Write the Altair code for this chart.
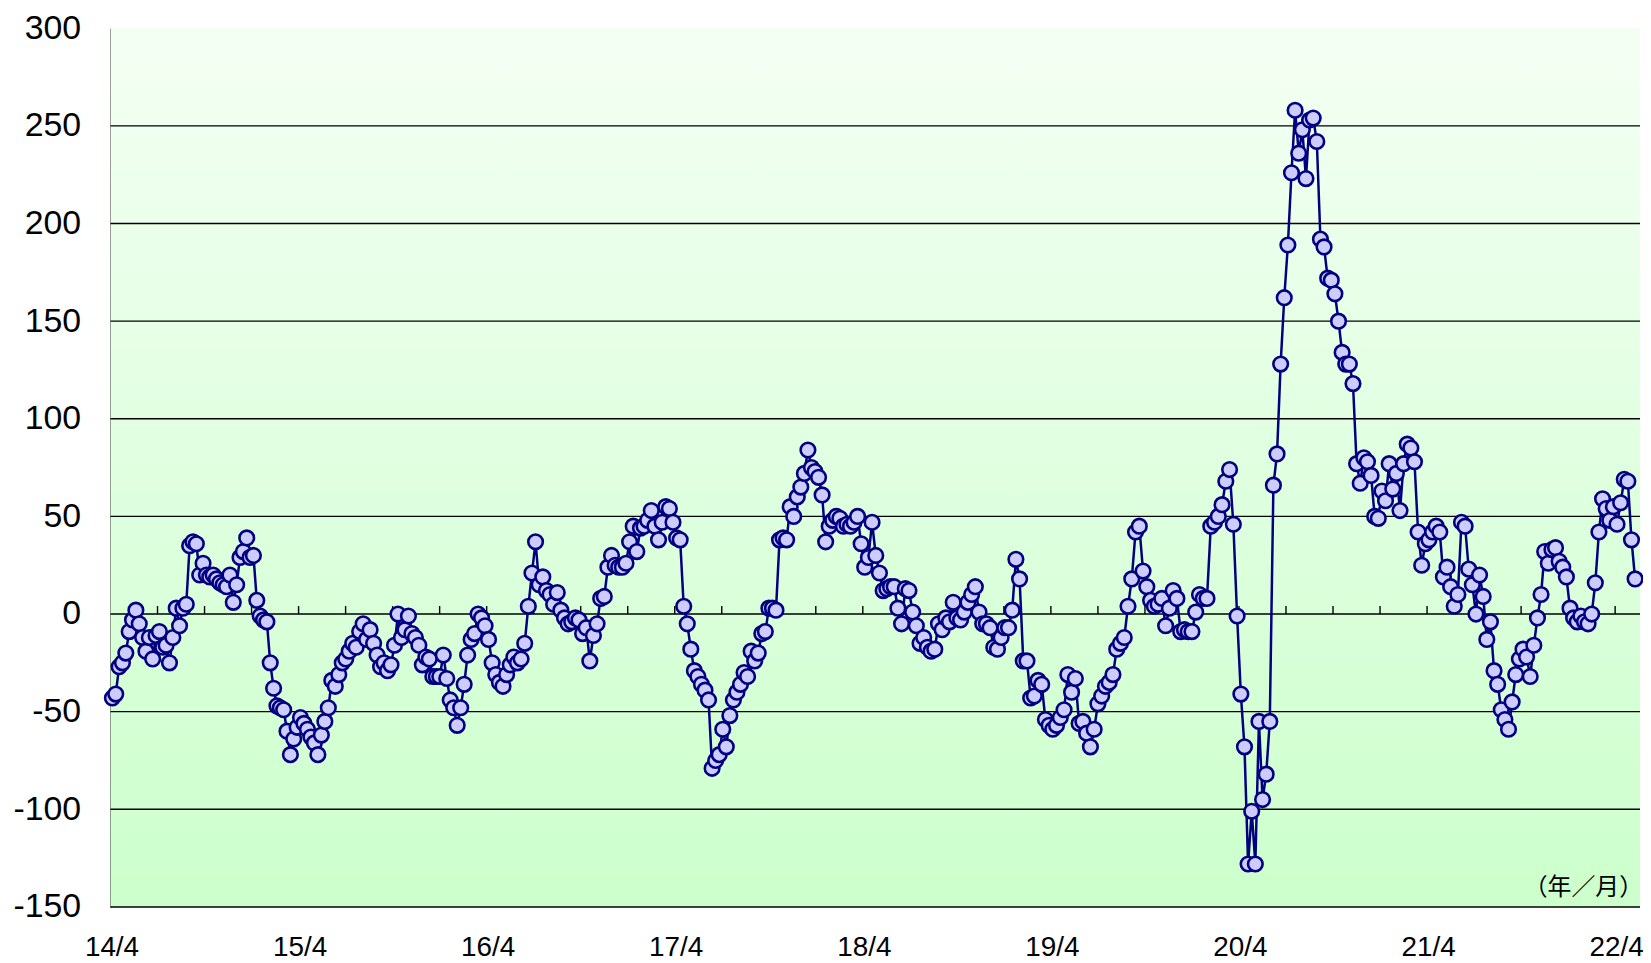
import altair as alt
import pandas as pd

# weekly values, one list per fiscal year (April start)
s14 = [-43, -41, -27, -25, -20, -9, -3, 2, -5, -12, -19, -12, -23, -11, -9, -17, -16, -25, -12, 3,
       -6, 3, 5, 35, 37, 36, 20, 26, 20, 19, 20, 18, 16, 15, 14, 20, 6, 15, 29, 32,
       39, 29, 30, 7, -1, -3, -4, -25, -38, -47, -48, -49, -60, -72, -64, -58]
s15 = [-53, -56, -59, -63, -66, -72, -62, -55, -48, -34, -37, -31, -25, -23, -19, -15, -17, -9, -5, -13,
       -8, -15, -21, -27, -25, -29, -26, -16, 0, -12, -8, -1, -10, -12, -16, -26, -22, -23, -32, -32,
       -32, -21, -33, -44, -48, -57, -48, -36, -21, -13, -10, 0, -2, -6]
s16 = [-13, -25, -31, -35, -37, -31, -26, -22, -25, -23, -15, 4, 21, 37, 15, 19, 12, 10, 5, 11,
       2, -2, -5, -4, -2, -3, -10, -7, -24, -11, -5, 8, 9, 24, 30, 25, 24, 24, 26, 37,
       45, 32, 44, 45, 48, 53, 45, 38, 47, 55, 54, 47]
s17 = [39, 38, 4, -5, -18, -29, -32, -36, -39, -44, -79, -75, -72, -59, -68, -52, -44, -40, -36, -30,
       -32, -19, -24, -20, -10, -9, 3, 3, 2, 38, 39, 38, 55, 50, 60, 65, 72, 84, 75, 73,
       70, 61, 37, 45, 48, 50, 49, 45, 46, 45, 47, 50, 36]
s18 = [24, 29, 47, 30, 21, 12, 13, 14, 14, 3, -5, 13, 12, 1, -6, -15, -12, -17, -19, -18,
       -5, -8, -2, -4, 6, -2, -3, 1, 6, 10, 14, 1, -5, -5, -7, -17, -18, -12, -7, -7,
       2, 28, 18, -24, -24, -43, -42, -34, -36, -54, -57]
s19 = [-59, -57, -53, -49, -31, -40, -33, -56, -55, -61, -68, -59, -46, -42, -37, -35, -31, -18, -15, -12,
       4, 18, 42, 45, 22, 14, 7, 4, 5, 8, -6, 3, 12, 8, -9, -8, -9, -9, 1, 10,
       8, 8, 45, 47, 50, 56, 68, 74, 46, -1]
s20 = [-41, -68, -128, -101, -128, -55, -95, -82, -55, 66, 82, 128, 162, 189, 226, 258, 236, 248, 223, 253,
       254, 242, 192, 188, 172, 171, 164, 150, 134, 128, 128, 118, 77, 67, 80, 78, 71, 50, 49, 63,
       58, 77, 64, 72, 53, 77, 87, 85, 78, 42, 25, 36]
s21 = [38, 42, 45, 42, 19, 24, 14, 4, 10, 47, 45, 23, 15, 0, 20, 9, -13, -4, -29, -36,
       -49, -54, -59, -45, -31, -23, -18, -22, -32, -16, -2, 10, 32, 26, 33, 34, 27, 24, 19, 3,
       -2, -4, -1, -4, -5, 0, 16, 42, 59, 54, 48, 55]
s22 = [46, 57, 69, 68, 38, 18]

YEAR_LABELS = ["14/4", "15/4", "16/4", "17/4", "18/4", "19/4", "20/4", "21/4", "22/4"]
GRID = [-150, -100, -50, 0, 50, 100, 150, 200, 250]
Y_TICKS = [-150, -100, -50, 0, 50, 100, 150, 200, 250, 300]

segments = [s14, s15, s16, s17, s18, s19, s20, s21, s22]
rows = []
for k, seg in enumerate(segments):
    n = len(seg) if k < 8 else 52
    for j, val in enumerate(seg):
        rows.append({"t": k + 0.01 + j / n, "v": val})
df = pd.DataFrame(rows)

W, H = 1537, 883
XMAX = W / 189.0

xscale = alt.Scale(domain=[0, XMAX], nice=False, zero=False)
yscale = alt.Scale(domain=[-150, 300], nice=False, zero=False)

label_arr = "[" + ",".join("'" + s + "'" for s in YEAR_LABELS) + "]"

xaxis = alt.Axis(values=list(range(9)), labelExpr=label_arr + "[datum.value]",
                 labelFontSize=28, labelFont="Liberation Sans", labelColor="#000000",
                 labelPadding=27, labelOffset=1, labelFlush=False, labelOverlap=False,
                 tickSize=0, domain=False, grid=False, title=None)
yaxis = alt.Axis(values=Y_TICKS, labelExpr="datum.value + ''",
                 labelFontSize=34, labelFont="Liberation Sans", labelColor="#000000",
                 labelPadding=30, labelFlush=False, labelOverlap=False,
                 tickSize=0, domain=True, domainColor="#000000", domainWidth=1.5,
                 grid=False, title=None)

one = alt.Data(values=[{"a": 1}])

bg = alt.Chart(one).mark_rect(
    fill=alt.Gradient(
        gradient="linear", x1=0, y1=0, x2=0, y2=1,
        stops=[alt.GradientStop(offset=0, color="#f4fff4"),
               alt.GradientStop(offset=1, color="#ccffcc")]
    )
).encode(x=alt.value(0), x2=alt.value(W), y=alt.value(0), y2=alt.value(H))

grid = alt.Chart(pd.DataFrame({"g": GRID})).mark_rule(color="#000000", strokeWidth=1.4).encode(
    y=alt.Y("g:Q", scale=yscale, axis=yaxis)
)

qt = pd.DataFrame({"q": [0.25 * k for k in range(1, 34) if 0.25 * k < XMAX], "z": 0})
zticks = alt.Chart(qt).mark_rule(color="#000000", strokeWidth=1.4, y2Offset=-8).encode(
    x=alt.X("q:Q", scale=xscale, axis=xaxis),
    y=alt.Y("z:Q", scale=yscale, axis=yaxis),
    y2=alt.Y2("z:Q"),
)

line = alt.Chart(df).mark_line(color="#000080", strokeWidth=2.5).encode(
    x=alt.X("t:Q", scale=xscale, axis=xaxis),
    y=alt.Y("v:Q", scale=yscale, axis=yaxis),
)
pts = alt.Chart(df).mark_circle(fill="#ccccff", stroke="#000080", strokeWidth=2.6, size=215, opacity=1).encode(
    x=alt.X("t:Q", scale=xscale, axis=xaxis),
    y=alt.Y("v:Q", scale=yscale, axis=yaxis),
)

unit = alt.Chart(one).mark_text(text="（年／月）", font="Noto Sans CJK JP", fontSize=24,
                                align="right", baseline="middle", color="#000000").encode(
    x=alt.value(W + 3), y=alt.value(H - 19)
)

chart = alt.layer(bg, grid, zticks, line, pts, unit).properties(
    width=W, height=H,
    padding={"left": 103, "top": 18, "right": 3, "bottom": 54},
    autosize=alt.AutoSizeParams(type="none"),
).configure_view(strokeWidth=0)

chart.save("out.html", embed_options={"renderer": "svg", "actions": False})
